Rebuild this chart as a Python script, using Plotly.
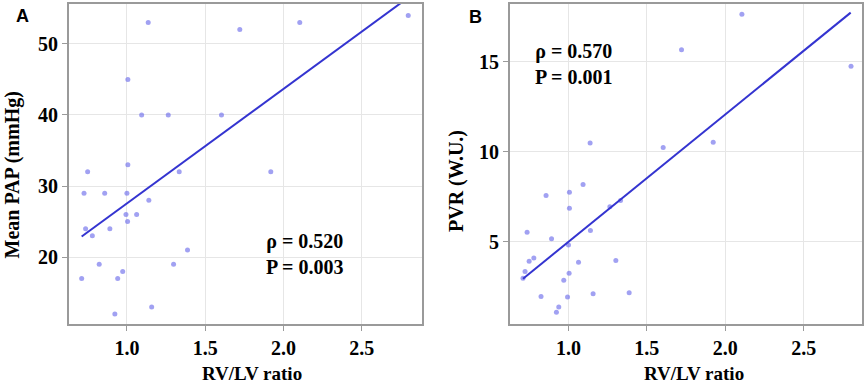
import plotly.graph_objects as go

# Panel A: RV/LV ratio vs Mean PAP
rvlv_a = [1.136, 1.006, 1.094, 1.264, 1.604, 0.749, 1.006, 1.334, 1.140, 0.726,
          0.858, 1.000, 0.736, 0.779, 0.891, 0.994, 1.062, 1.004, 0.711, 0.823,
          0.973, 0.941, 0.923, 1.158, 1.298, 1.387, 1.721, 2.104, 2.797, 1.919]
mpap = [53, 45, 40, 40, 40, 32, 33, 32, 28, 29,
        29, 29, 24, 23, 24, 26, 26, 25, 17, 19,
        18, 17, 12, 13, 19, 21, 52, 53, 54, 32]
fit_a_x = [0.711, 2.797]
fit_a_y = [22.9, 56.5]

# Panel B: RV/LV ratio vs PVR
rvlv_b = [1.138, 0.857, 1.006, 1.093, 1.721, 2.106, 2.802, 1.604, 1.923, 1.006,
          1.264, 1.332, 0.736, 0.892, 1.140, 1.000, 0.749, 0.779, 1.064, 1.302,
          0.723, 0.710, 1.004, 0.970, 0.825, 0.994, 1.157, 1.387, 0.938, 0.923]
pvr = [10.48, 7.56, 7.74, 8.17, 15.67, 17.65, 14.76, 10.24, 10.52, 6.85,
       6.93, 7.28, 5.52, 5.15, 5.61, 4.81, 3.90, 4.09, 3.85, 3.94,
       3.33, 2.96, 3.24, 2.85, 1.94, 1.91, 2.09, 2.15, 1.35, 1.06]
fit_b_x = [0.710, 2.800]
fit_b_y = [2.93, 17.74]

x_ticks = [1.0, 1.5, 2.0, 2.5]
x_tick_text = ["1.0", "1.5", "2.0", "2.5"]
y_ticks_a = [20, 30, 40, 50]
y_tick_text_a = ["20", "30", "40", "50"]
y_ticks_b = [5, 10, 15]
y_tick_text_b = ["5", "10", "15"]

W, H = 867, 388
def px(x):
    return x / W
def py(y):
    return (H - y) / H

MARK = dict(color="rgba(110,110,235,0.65)", size=5)
LINE = dict(color="#3434d0", width=2)
SERIF = "Liberation Serif"

fig = go.Figure()
fig.add_trace(go.Scatter(x=rvlv_a, y=mpap, mode="markers", marker=MARK,
                         xaxis="x", yaxis="y", showlegend=False))
fig.add_trace(go.Scatter(x=fit_a_x, y=fit_a_y, mode="lines", line=LINE,
                         xaxis="x", yaxis="y", showlegend=False))
fig.add_trace(go.Scatter(x=rvlv_b, y=pvr, mode="markers", marker=MARK,
                         xaxis="x2", yaxis="y2", showlegend=False))
fig.add_trace(go.Scatter(x=fit_b_x, y=fit_b_y, mode="lines", line=LINE,
                         xaxis="x2", yaxis="y2", showlegend=False))

def bold(lst):
    return ["<b>" + t + "</b>" for t in lst]

TICKFONT = dict(family=SERIF, size=20, color="black")
axis_common = dict(showline=True, mirror=True, linecolor="#9a9a9a", linewidth=2,
                   ticks="outside", ticklen=5, tickcolor="#9a9a9a", tickwidth=1,
                   showgrid=True, gridcolor="#e6e6e6", gridwidth=1, zeroline=False,
                   automargin=False)

ydom = [py(324), py(4)]
fig.update_layout(
    template="none",
    width=W, height=H, margin=dict(l=0, r=0, t=0, b=0, autoexpand=False),
    paper_bgcolor="white", plot_bgcolor="white",
    font=dict(family=SERIF, color="black", size=20),
    xaxis=dict(domain=[px(69), px(421.7)], range=[0.630, 2.883], anchor="y",
               tickmode="array", tickvals=x_ticks, ticktext=bold(x_tick_text), **axis_common),
    yaxis=dict(domain=ydom, range=[10.6, 55.6], anchor="x",
               tickmode="array", tickvals=y_ticks_a, ticktext=bold(y_tick_text_a), **axis_common),
    xaxis2=dict(domain=[px(510), px(862.3)], range=[0.627, 2.874], anchor="y2",
                tickmode="array", tickvals=x_ticks, ticktext=bold(x_tick_text), **axis_common),
    yaxis2=dict(domain=ydom, range=[0.41, 18.22], anchor="x2",
                tickmode="array", tickvals=y_ticks_b, ticktext=bold(y_tick_text_b), **axis_common),
)
fig.update_xaxes(tickfont=TICKFONT)
fig.update_yaxes(tickfont=TICKFONT)

def ann(text, x, y, size=20, family=SERIF, angle=0):
    fig.add_annotation(text="<b>" + text.replace("<br>", "</b><br><b>") + "</b>",
                       x=px(x), y=py(y), xref="paper", yref="paper",
                       showarrow=False, xanchor="center", yanchor="middle",
                       textangle=angle,
                       font=dict(family=family, size=size, color="black"))

ann("ρ = 0.520<br>P = 0.003", 305, 254)
ann("ρ = 0.570<br>P = 0.001", 573.5, 64)
ann("RV/LV ratio", 252, 373, size=19)
ann("RV/LV ratio", 694, 373, size=19)
ann("Mean PAP (mmHg)", 12, 175.5, size=20, angle=-90)
ann("PVR (W.U.)", 456, 181, size=20, angle=-90)
ann("A", 22.5, 16.5, size=18, family="Liberation Sans")
ann("B", 475, 17.5, size=18, family="Liberation Sans")

fig.write_html("out.html", config={"displayModeBar": False},
               post_script="document.body.style.margin='0';document.body.style.padding='0';")
